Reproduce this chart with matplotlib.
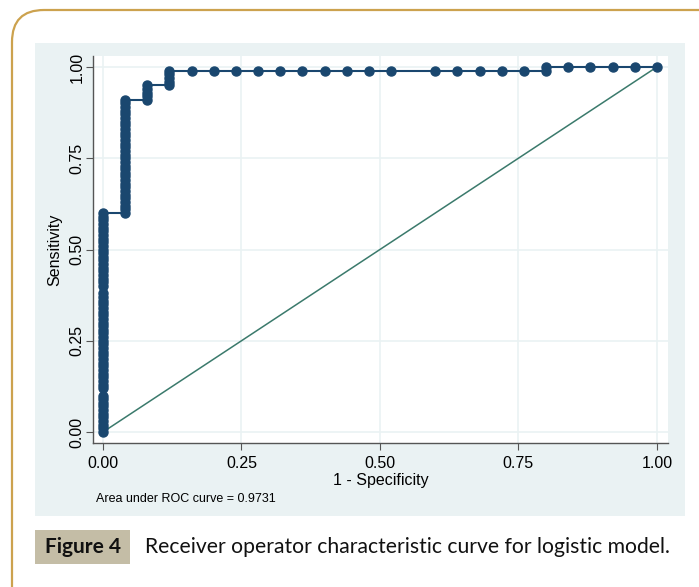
import numpy as np
import matplotlib
matplotlib.use("Agg")
import matplotlib.pyplot as plt
from matplotlib.patches import FancyBboxPatch, Rectangle

## ROC data
# sensitivity values at each 1-specificity column
col_000 = [0.00, 0.01, 0.02, 0.03, 0.04, 0.05, 0.06, 0.07, 0.08, 0.09, 0.10,
           0.12, 0.13, 0.14, 0.15, 0.16, 0.17, 0.18, 0.19, 0.20, 0.21, 0.22,
           0.23, 0.24, 0.25, 0.26, 0.27, 0.28, 0.29, 0.30, 0.31, 0.32, 0.33,
           0.34, 0.35, 0.36, 0.37, 0.38, 0.40, 0.41, 0.42, 0.43, 0.44, 0.45,
           0.46, 0.47, 0.48, 0.49, 0.50, 0.51, 0.52, 0.53, 0.54, 0.55, 0.56,
           0.57, 0.58, 0.59, 0.60]
col_004 = [0.60, 0.61, 0.62, 0.63, 0.64, 0.65, 0.66, 0.67, 0.68, 0.69, 0.70,
           0.71, 0.72, 0.73, 0.74, 0.75, 0.76, 0.77, 0.78, 0.79, 0.80, 0.81,
           0.82, 0.83, 0.84, 0.85, 0.86, 0.87, 0.88, 0.89, 0.90, 0.91]
col_008 = [0.91, 0.92, 0.93, 0.94, 0.95]
col_012 = [0.95, 0.96, 0.97, 0.98, 0.99]
fpr_tail = [0.16, 0.20, 0.24, 0.28, 0.32, 0.36, 0.40, 0.44, 0.48, 0.52,
            0.60, 0.64, 0.68, 0.72, 0.76, 0.80, 0.80, 0.84, 0.88, 0.92, 0.96, 1.00]
tpr_tail = [0.99, 0.99, 0.99, 0.99, 0.99, 0.99, 0.99, 0.99, 0.99, 0.99,
            0.99, 0.99, 0.99, 0.99, 0.99, 0.99, 1.00, 1.00, 1.00, 1.00, 1.00, 1.00]
auc = 0.9731

ticks = [0.00, 0.25, 0.50, 0.75, 1.00]
tick_labels = ["0.00", "0.25", "0.50", "0.75", "1.00"]

fpr = ([0.00] * len(col_000) + [0.04] * len(col_004) + [0.08] * len(col_008)
       + [0.12] * len(col_012) + fpr_tail)
tpr = col_000 + col_004 + col_008 + col_012 + tpr_tail

W, H = 699, 587
fig = plt.figure(figsize=(W / 100, H / 100), dpi=100)
fig.patch.set_facecolor("white")

## background: gold rounded frame, stata panel, caption
bg = fig.add_axes([0, 0, 1, 1])
bg.set_xlim(0, W)
bg.set_ylim(H, 0)
bg.axis("off")
bg.add_patch(FancyBboxPatch((12, 10), 720, 620, boxstyle="round,pad=0,rounding_size=32",
                            fc="white", ec="#CCA24E", lw=1.6))
bg.add_patch(Rectangle((35, 43), 650, 473, fc="#EAF2F3", ec="none"))
bg.add_patch(Rectangle((35, 530), 95, 34, fc="#C4BDA6", ec="none"))
bg.text(83, 547, "Figure 4", ha="center", va="center", fontsize=15,
        fontweight="bold", family="Lato", color="#111111")
bg.text(145, 547, "Receiver operator characteristic curve for logistic model.",
        ha="left", va="center", fontsize=15.2, family="Lato", color="#111111")
bg.text(96, 499, "Area under ROC curve = %.4f" % auc, ha="left", va="center",
        fontsize=9, family="Liberation Sans", color="black")

## main plot
l, r, t, b = 93, 668, 56, 443
ax = fig.add_axes([l / W, 1 - b / H, (r - l) / W, (b - t) / H])
ax.set_facecolor("white")
ax.set_xlim(-0.018, 1.02)
ax.set_ylim(-0.030, 1.030)
ax.grid(True, color="#EAF2F3", lw=1.2)
ax.set_axisbelow(True)
for s in ["top", "right"]:
    ax.spines[s].set_visible(False)
for s in ["left", "bottom"]:
    ax.spines[s].set_color("#555555")
    ax.spines[s].set_linewidth(1.0)

ax.plot([0, 1], [0, 1], color="#3B7A6C", lw=1.1, zorder=2)
ax.plot(fpr, tpr, color="#1A476F", lw=1.5, marker="o", ms=6.5,
        mec="#1A476F", mfc="#1A476F", zorder=3)

ax.set_xticks(ticks)
ax.set_xticklabels(tick_labels, family="Liberation Sans", fontsize=11.5)
ax.set_yticks(ticks)
ax.set_yticklabels(tick_labels, family="Liberation Sans", fontsize=11.5,
                   rotation=90, va="center")
ax.tick_params(direction="out", length=5, width=0.8, color="#555555", pad=4)
ax.tick_params(axis="y", pad=1)
ax.set_xlabel("1 - Specificity", family="Liberation Sans", fontsize=11.5, labelpad=2)
ax.set_ylabel("Sensitivity", family="Liberation Sans", fontsize=11.5,
              ha="center", va="center")
ax.yaxis.set_label_coords((55 - l) / (r - l), 0.5)

fig.savefig("out.png", dpi=100)
